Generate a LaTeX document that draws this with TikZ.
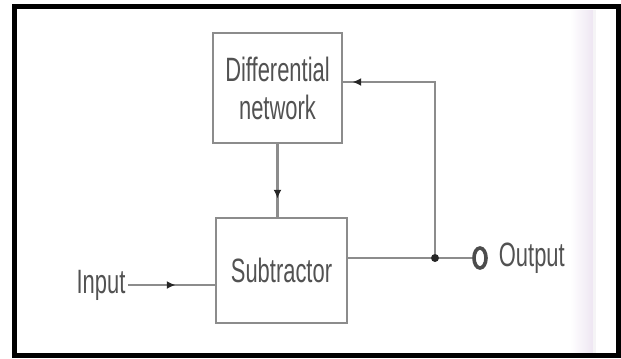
\documentclass[tikz,border=0pt]{standalone}
\usepackage{fontspec}
\setmainfont{Liberation Sans}
\usepackage{graphicx}
\usetikzlibrary{positioning, arrows.meta, shapes.geometric, decorations.markings}

\definecolor{linegray}{gray}{0.55}
\definecolor{txtgray}{gray}{0.32}
\definecolor{scanstrip}{RGB}{238,230,242}
\newcommand{\narrowtxt}[1]{\scalebox{0.65}[1]{#1}}

\begin{document}
\begin{tikzpicture}[x=0.025cm, y=-0.025cm,
    block/.style={draw=linegray, line width=0.07cm, inner sep=0pt, text=txtgray,
        align=center, font=\fontsize{24}{27}\selectfont},
    lbl/.style={inner sep=2pt, text=txtgray, font=\fontsize{24}{27}\selectfont},
    wire/.style={linegray, line width=0.07cm},
    tipat/.style={postaction={decorate}, decoration={markings,
        mark=at position #1 with {\arrow[black!85]{Latex[length=0.22cm,width=0.2cm]}}}}]
    \useasboundingbox (0,0) rectangle (621,358);
    % scan frame
    \shade[left color=white, right color=scanstrip] (570,10) rectangle (593,354);
    \fill[scanstrip!80!black!15] (593,10) rectangle (596,354);
    \draw[line width=0.125cm] (14.5,6.5) rectangle (618.5,355.5);

    % blocks
    \node[block, minimum width=3.225cm, minimum height=2.75cm] (diff) at (277.5,88)
        {\narrowtxt{Differential}\\\narrowtxt{network}};
    \node[block, minimum width=3.275cm, minimum height=2.625cm] (sub) at (281.5,270.5)
        {\narrowtxt{Subtractor}};

    % terminals
    \node[lbl] (inp) at (101,285) {\narrowtxt{Input}};
    \node[circle, fill=black!85, inner sep=0pt, minimum size=0.2cm] (jn) at (435,258) {};
    \node[ellipse, draw=black!70, line width=0.09cm, inner sep=0pt,
        minimum width=0.3cm, minimum height=0.5cm] (term) at (480,258) {};
    \node[lbl, right=0.2cm of term] (out) {\narrowtxt{Output}};

    % connectors
    \draw[wire, tipat=-0.975cm] (inp.east) -- (inp.east -| sub.west);
    \draw[wire, tipat=-0.45cm] (diff.south) -- (diff.south |- sub.north);
    \draw[wire] (sub.east |- jn) -- (jn);
    \draw[wire] (jn) -- (term.west);
    \draw[wire, tipat=-0.225cm] (jn) |- ([yshift=0.15cm]diff.east);
\end{tikzpicture}
\end{document}
